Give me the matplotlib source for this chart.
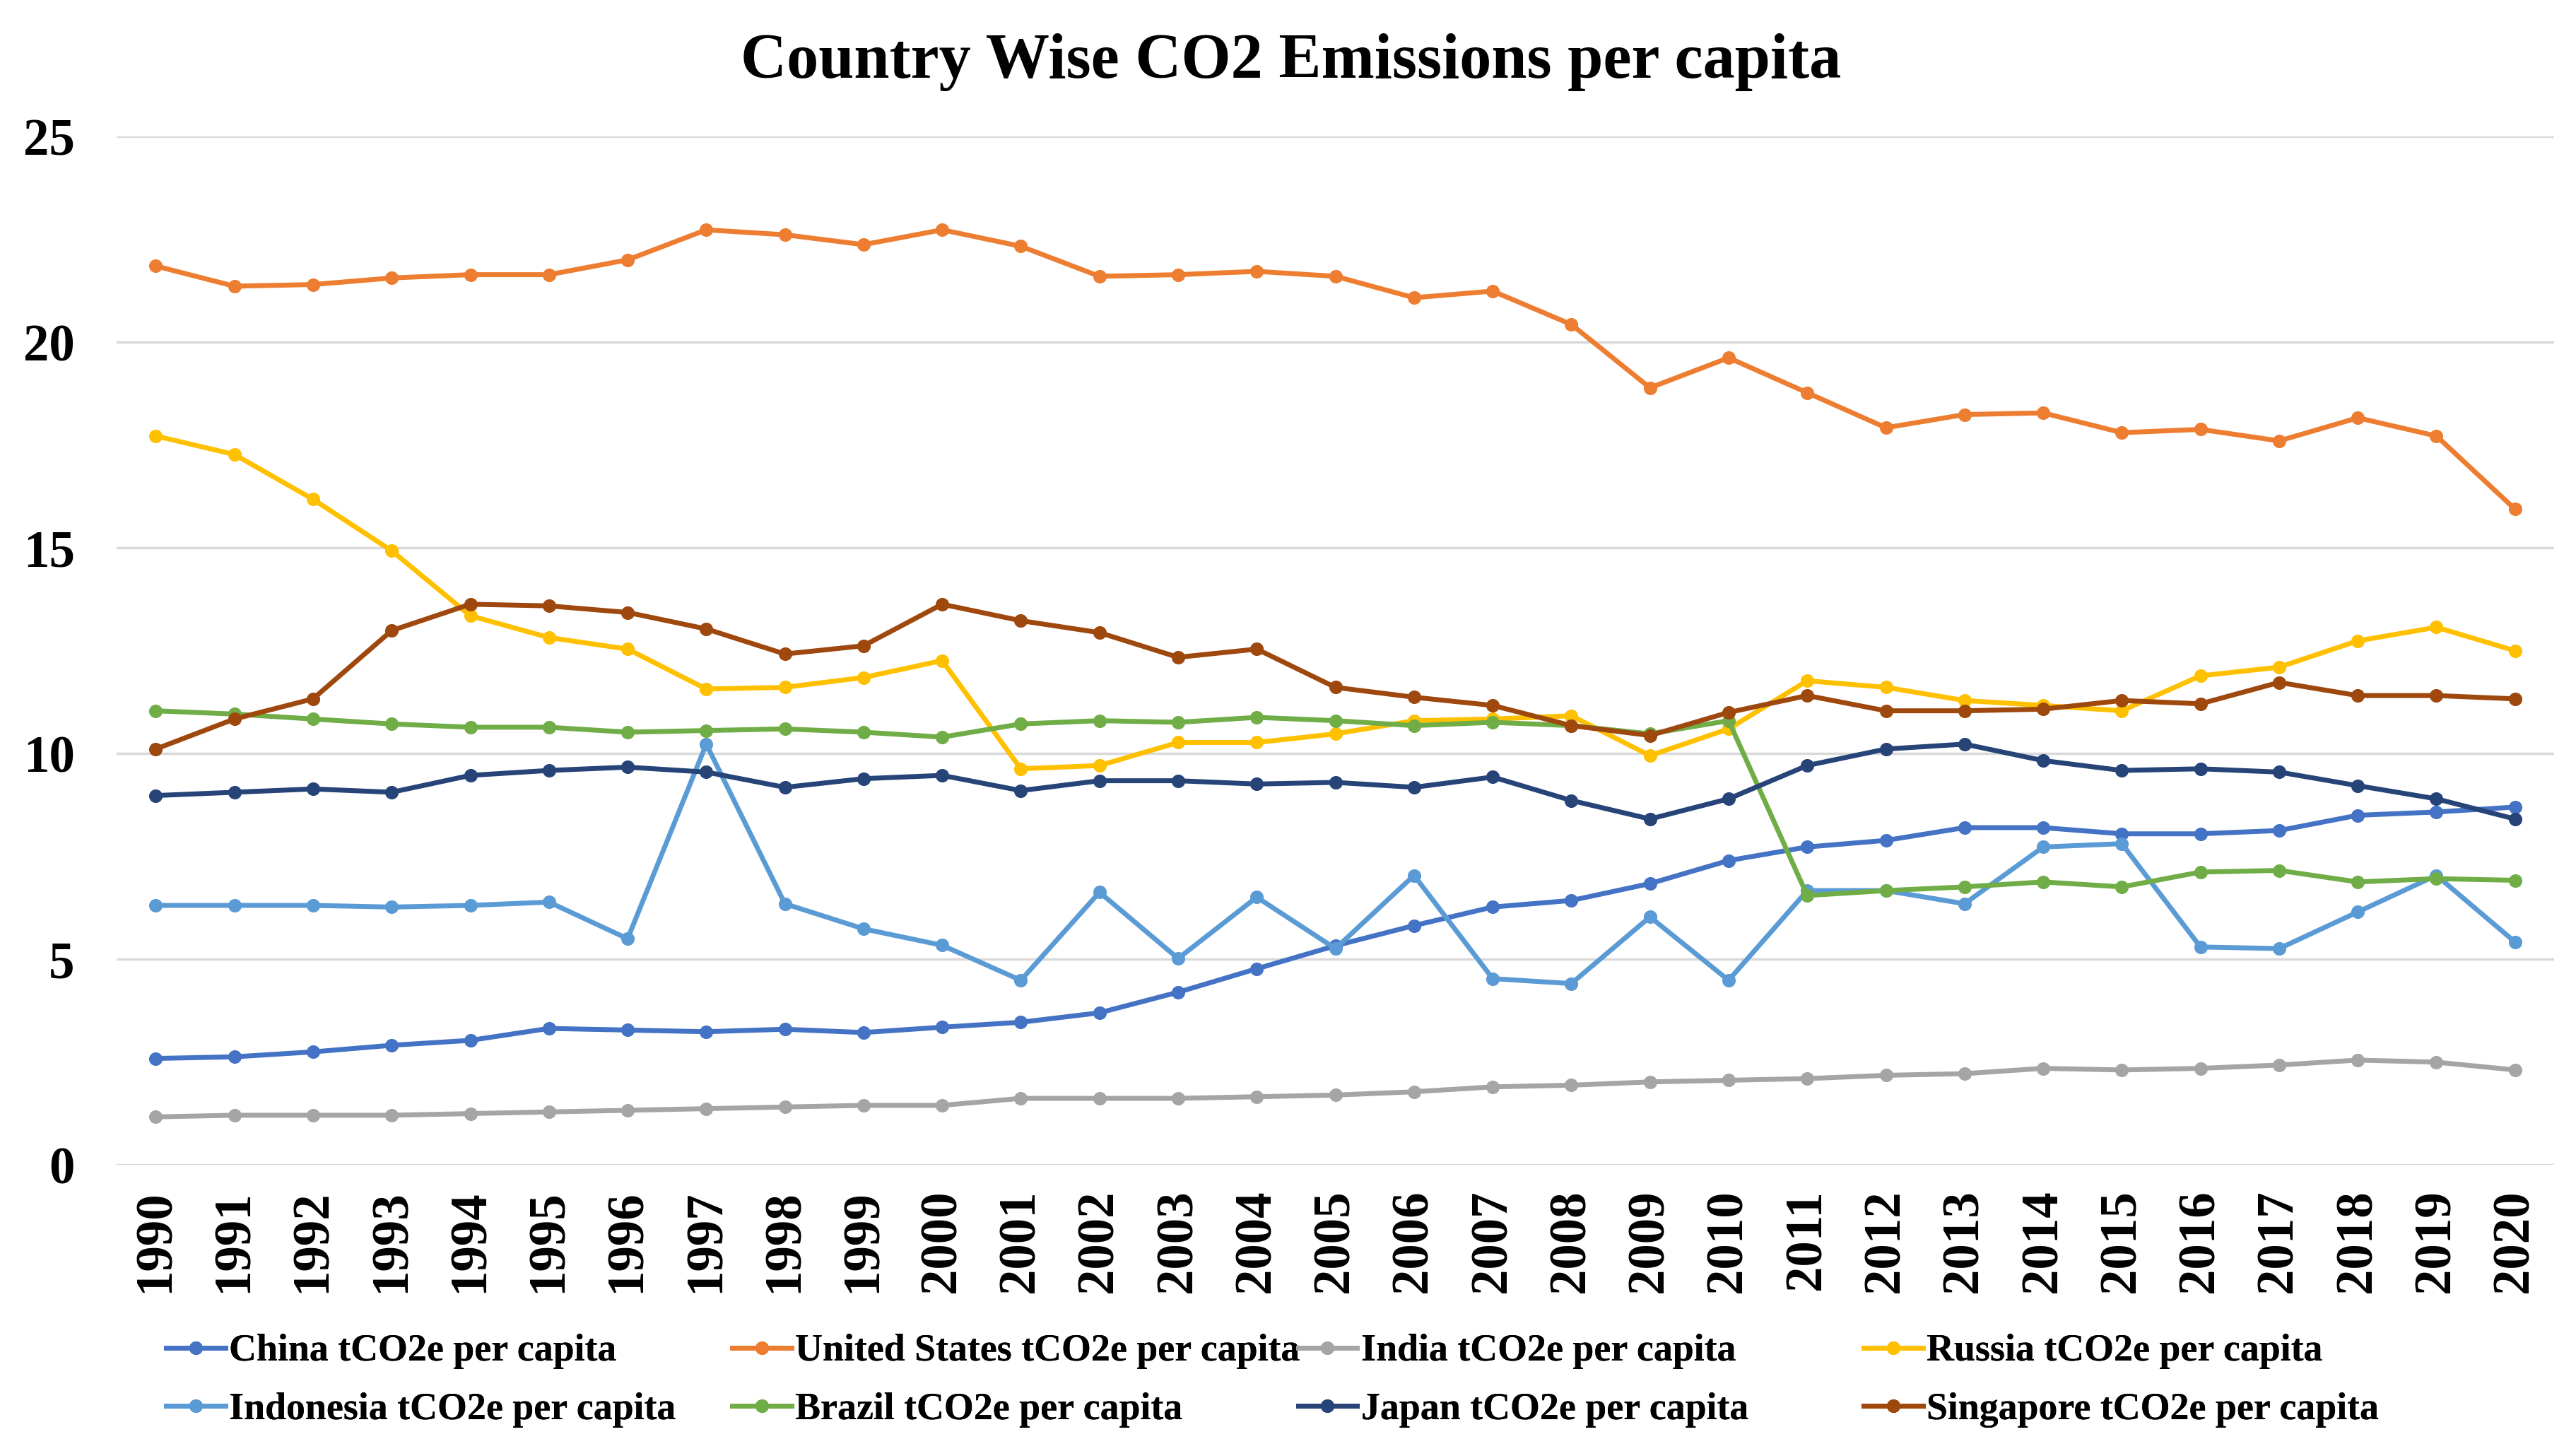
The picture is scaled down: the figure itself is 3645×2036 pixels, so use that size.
import numpy as np
import matplotlib
matplotlib.use('Agg')
import matplotlib.pyplot as plt

plt.rcParams['font.family'] = ['Liberation Serif', 'DejaVu Serif']
plt.rcParams['font.weight'] = 'bold'

# 年份
years = list(range(1990, 2021))

# 各國人均排放（tCO2e）
china = [2.59, 2.63, 2.75, 2.91, 3.03, 3.32, 3.28, 3.24, 3.30, 3.22, 3.35, 3.47, 3.70, 4.20, 4.77,
         5.33, 5.82, 6.27, 6.43, 6.84, 7.40, 7.73, 7.89, 8.20, 8.20, 8.05, 8.05, 8.13, 8.50, 8.58, 8.70]
usa = [21.85, 21.36, 21.40, 21.56, 21.64, 21.64, 22.00, 22.73, 22.61, 22.37, 22.73, 22.33, 21.60, 21.64, 21.72,
       21.60, 21.08, 21.24, 20.43, 18.89, 19.62, 18.77, 17.92, 18.24, 18.28, 17.80, 17.88, 17.60, 18.16, 17.72, 15.94]
india = [1.17, 1.21, 1.21, 1.21, 1.25, 1.29, 1.33, 1.37, 1.41, 1.45, 1.45, 1.62, 1.62, 1.62, 1.66,
         1.70, 1.78, 1.90, 1.94, 2.02, 2.06, 2.10, 2.18, 2.22, 2.35, 2.31, 2.35, 2.43, 2.55, 2.50, 2.31]
russia = [17.72, 17.27, 16.18, 14.93, 13.35, 12.82, 12.54, 11.57, 11.61, 11.85, 12.26, 9.63, 9.71, 10.27, 10.27,
          10.48, 10.80, 10.84, 10.92, 9.95, 10.60, 11.77, 11.61, 11.29, 11.17, 11.04, 11.89, 12.10, 12.74, 13.07, 12.50]
indonesia = [6.31, 6.31, 6.31, 6.27, 6.31, 6.39, 5.50, 10.23, 6.35, 5.74, 5.34, 4.49, 6.63, 5.02, 6.51,
             5.26, 7.04, 4.53, 4.41, 6.03, 4.49, 6.67, 6.67, 6.35, 7.73, 7.81, 5.30, 5.26, 6.15, 7.04, 5.42]
brazil = [11.04, 10.96, 10.84, 10.72, 10.64, 10.64, 10.52, 10.56, 10.60, 10.52, 10.40, 10.72, 10.80, 10.76, 10.88,
          10.80, 10.68, 10.76, 10.68, 10.48, 10.80, 6.55, 6.67, 6.76, 6.88, 6.76, 7.12, 7.16, 6.88, 6.96, 6.92]
japan = [8.98, 9.06, 9.14, 9.06, 9.47, 9.59, 9.67, 9.55, 9.18, 9.39, 9.47, 9.10, 9.34, 9.34, 9.26,
         9.30, 9.18, 9.43, 8.86, 8.41, 8.90, 9.71, 10.11, 10.23, 9.83, 9.59, 9.63, 9.55, 9.22, 8.90, 8.41]
singapore = [10.11, 10.84, 11.33, 12.99, 13.63, 13.59, 13.43, 13.03, 12.42, 12.62, 13.63, 13.23, 12.94, 12.34, 12.54,
             11.61, 11.37, 11.17, 10.68, 10.44, 11.00, 11.41, 11.04, 11.04, 11.08, 11.29, 11.21, 11.73, 11.41, 11.41, 11.33]

labels = ['China tCO2e per capita', 'United States tCO2e per capita', 'India tCO2e per capita',
          'Russia tCO2e per capita', 'Indonesia tCO2e per capita', 'Brazil tCO2e per capita',
          'Japan tCO2e per capita', 'Singapore tCO2e per capita']
series = [china, usa, india, russia, indonesia, brazil, japan, singapore]
colors = ['#4472C4', '#ED7D31', '#A5A5A5', '#FFC000', '#5B9BD5', '#70AD47', '#264478', '#9E480E']

fig = plt.figure(figsize=(14.58, 8.144), dpi=250)
ax = fig.add_axes([0.0452, 0.1904, 0.9464, 0.7148])

handles = []
for vals, lab, col in zip(series, labels, colors):
    h, = ax.plot(years, vals, color=col, linewidth=2.0, marker='o', markersize=4.5,
                 label=lab, zorder=3)
    handles.append(h)

ax.set_xlim(1989.5, 2020.5)
ax.set_ylim(0, 25)
ax.set_yticks([0, 5, 10, 15, 20, 25])
ax.set_xticks(years)
ax.set_xticklabels([str(y) for y in years], rotation=90, fontsize=21, fontweight='bold')
ax.tick_params(axis='y', labelsize=21, length=0, pad=17)
ax.tick_params(axis='x', length=0, pad=10)
for lab in ax.get_yticklabels():
    lab.set_fontweight('bold')
ax.grid(axis='y', color='#D9D9D9', linewidth=1.0, zorder=0)
for s in ax.spines.values():
    s.set_visible(False)

fig.text(0.501, 0.957, 'Country Wise CO2 Emissions per capita', ha='center', va='center',
         fontsize=26, fontweight='bold')

# 圖例：四欄兩列
col_x = [0.0646, 0.2843, 0.5039, 0.7235]
for i, x in enumerate(col_x):
    leg = fig.legend(handles=[handles[i], handles[i + 4]], labels=[labels[i], labels[i + 4]],
                     loc='upper left', bbox_to_anchor=(x, 0.073), frameon=False,
                     handlelength=1.55, handletextpad=0.1,
                     labelspacing=0.6, borderaxespad=0, borderpad=0,
                     prop={'weight': 'bold', 'size': 15.5})
    fig.add_artist(leg)

fig.savefig('out.png', dpi=250)
